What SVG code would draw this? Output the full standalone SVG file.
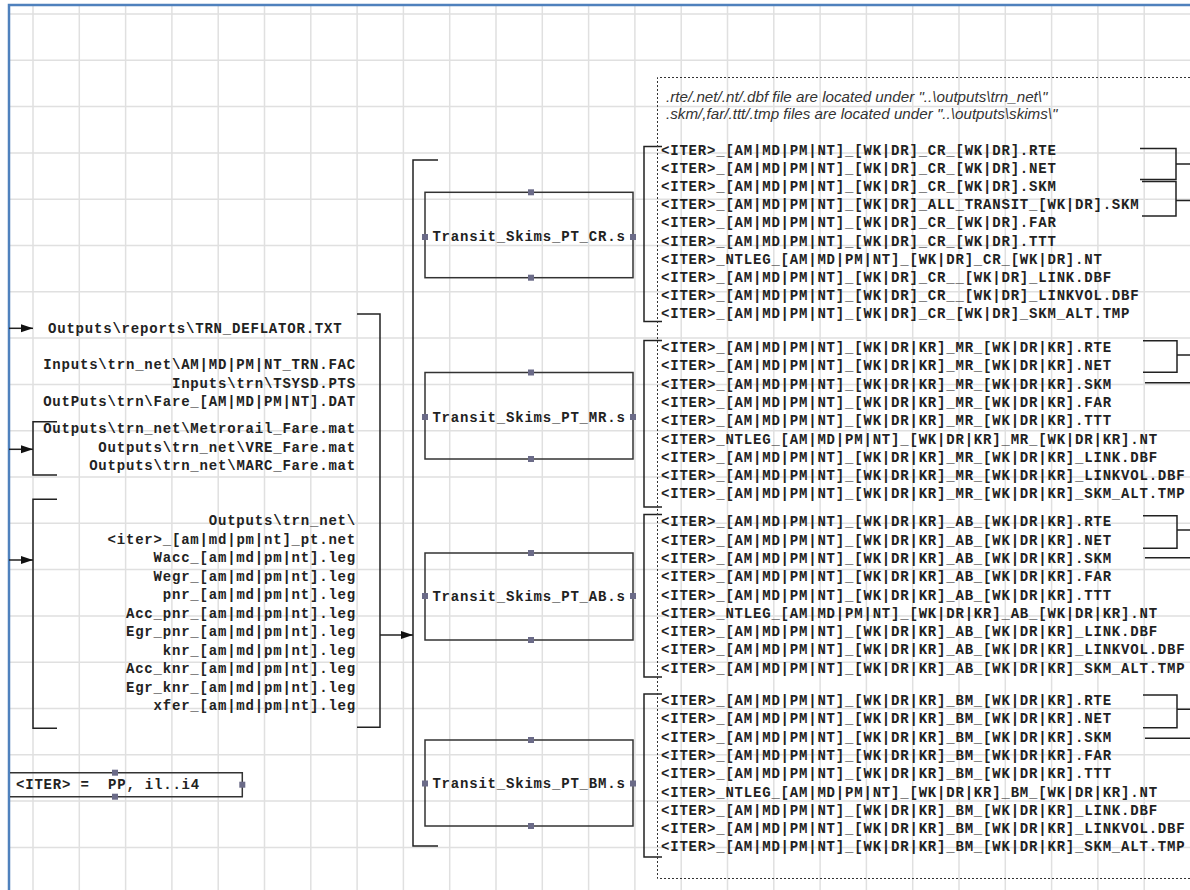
<svg xmlns="http://www.w3.org/2000/svg" width="1190" height="890" viewBox="0 0 1190 890">
<defs>
<style>
.grid{stroke:#e0e0e0;stroke-width:1.5;fill:none}
.frame{stroke:#4f81bd;stroke-width:2.5;fill:none}
.mono{font-family:"Liberation Mono","Courier New",monospace;font-size:14px;font-weight:bold;letter-spacing:0.8px;fill:#222;white-space:pre}
.r{text-anchor:end}
.c{text-anchor:middle}
.box{fill:none;stroke:#333;stroke-width:1.5}
.h{fill:#6b6b88}
.br{fill:none;stroke:#222;stroke-width:1.5}
.dot{fill:none;stroke:#333;stroke-width:1;stroke-dasharray:2,2}
.note{font-family:"Liberation Sans",Arial,sans-serif;font-style:italic;font-size:15.2px;fill:#333}
</style>
<marker id="arr" markerUnits="userSpaceOnUse" markerWidth="13" markerHeight="9" refX="12" refY="4" orient="auto">
<path d="M0,0 L12,4 L0,8 z" fill="#111"/>
</marker>
</defs>
<rect width="1190" height="890" fill="#fff"/>
<path class="grid" d="M33,5V890M79.3,5V890M125.6,5V890M171.9,5V890M218.2,5V890M264.5,5V890M310.8,5V890M357.1,5V890M403.4,5V890M449.7,5V890M496,5V890M542.3,5V890M588.6,5V890M634.9,5V890M681.2,5V890M727.5,5V890M773.8,5V890M820.1,5V890M866.4,5V890M912.7,5V890M959,5V890M1005.3,5V890M1051.6,5V890M1097.9,5V890M1144.2,5V890
M9,14H1190M9,60.3H1190M9,106.6H1190M9,152.9H1190M9,199.2H1190M9,245.5H1190M9,291.8H1190M9,338.1H1190M9,384.4H1190M9,430.7H1190M9,477H1190M9,523.3H1190M9,569.6H1190M9,615.9H1190M9,662.2H1190M9,708.5H1190M9,754.8H1190M9,801.1H1190M9,847.4H1190"/>
<path class="frame" d="M9,890V5H1190"/>

<g id="connectors">
<path class="br" d="M9,328.3H33" marker-end="url(#arr)"/>
<path class="br" d="M57,421.7H33V475H57"/>
<path class="br" d="M9,449.3H33" marker-end="url(#arr)"/>
<path class="br" d="M57,499.3H33V728.3H57"/>
<path class="br" d="M9,560H33" marker-end="url(#arr)"/>
<path class="br" d="M357,314H380V727.3H357"/>
<path class="br" d="M380,635H413" marker-end="url(#arr)"/>
<path class="br" d="M438,160H413V846H438"/>
<path class="br" d="M662,146.5H644V321.5H662"/>
<path class="br" d="M662,340.5H644V507H662"/>
<path class="br" d="M662,514.5H644V677H662"/>
<path class="br" d="M662,694H644V857H662"/>
<path class="br" d="M1140,148.5H1176V179.5H1140M1176,164H1190"/>
<path class="br" d="M1142,181.5H1176V216H1142M1176,200.5H1190"/>
<path class="br" d="M1143,340.7H1177V372.3H1143M1177,355H1190M1145,382.7H1190"/>
<path class="br" d="M1143,515.7H1177V548.3H1143M1177,530H1190M1145,557.7H1190"/>
<path class="br" d="M1143,695H1177V727.7H1143M1177,709.3H1190M1145,738.3H1190"/>
</g>

<g id="input-deflator">
<text class="mono" x="48" y="333">Outputs\reports\TRN_DEFLATOR.TXT</text>
<text class="mono r" x="356" y="369">Inputs\trn_net\AM|MD|PM|NT_TRN.FAC</text>
<text class="mono r" x="356" y="387.5">Inputs\trn\TSYSD.PTS</text>
<text class="mono r" x="356" y="406">OutPuts\trn\Fare_[AM|MD|PM|NT].DAT</text>
</g>
<g id="input-fares">
<text class="mono r" x="356" y="433">Outputs\trn_net\Metrorail_Fare.mat</text>
<text class="mono r" x="356" y="451.5">Outputs\trn_net\VRE_Fare.mat</text>
<text class="mono r" x="356" y="470">Outputs\trn_net\MARC_Fare.mat</text>
</g>
<g id="input-networks">
<text class="mono r" x="356" y="525">Outputs\trn_net\</text>
<text class="mono r" x="356" y="543.5">&lt;iter&gt;_[am|md|pm|nt]_pt.net</text>
<text class="mono r" x="356" y="562">Wacc_[am|md|pm|nt].leg</text>
<text class="mono r" x="356" y="580.5">Wegr_[am|md|pm|nt].leg</text>
<text class="mono r" x="356" y="599">pnr_[am|md|pm|nt].leg</text>
<text class="mono r" x="356" y="617.5">Acc_pnr_[am|md|pm|nt].leg</text>
<text class="mono r" x="356" y="636">Egr_pnr_[am|md|pm|nt].leg</text>
<text class="mono r" x="356" y="654.5">knr_[am|md|pm|nt].leg</text>
<text class="mono r" x="356" y="673">Acc_knr_[am|md|pm|nt].leg</text>
<text class="mono r" x="356" y="691.5">Egr_knr_[am|md|pm|nt].leg</text>
<text class="mono r" x="356" y="710">xfer_[am|md|pm|nt].leg</text>
</g>

<g id="iter-def">
<path class="box" d="M10,772.7H242.3V796.7H10"/>
<text class="mono" x="16" y="789" xml:space="preserve">&lt;ITER&gt; =  PP, il..i4</text>
<rect class="h" x="112" y="769.7" width="6" height="6"/>
<rect class="h" x="112" y="793.7" width="6" height="6"/>
<rect class="h" x="239.3" y="781.7" width="6" height="6"/>
</g>

<g id="node-cr">
<rect class="box" x="425" y="192.3" width="208" height="85.4"/>
<text class="mono c" x="529" y="241">Transit_Skims_PT_CR.s</text>
<rect class="h" x="528" y="189.3" width="6" height="6"/>
<rect class="h" x="528" y="274.7" width="6" height="6"/>
<rect class="h" x="422" y="234" width="6" height="6"/>
<rect class="h" x="630" y="234" width="6" height="6"/>
</g>
<g id="node-mr">
<rect class="box" x="425" y="372.5" width="208" height="86.5"/>
<text class="mono c" x="529" y="422">Transit_Skims_PT_MR.s</text>
<rect class="h" x="528" y="369.5" width="6" height="6"/>
<rect class="h" x="528" y="456" width="6" height="6"/>
<rect class="h" x="422" y="414" width="6" height="6"/>
<rect class="h" x="630" y="414" width="6" height="6"/>
</g>
<g id="node-ab">
<rect class="box" x="425" y="553" width="208" height="87"/>
<text class="mono c" x="529" y="600.5">Transit_Skims_PT_AB.s</text>
<rect class="h" x="528" y="550" width="6" height="6"/>
<rect class="h" x="528" y="637" width="6" height="6"/>
<rect class="h" x="422" y="593" width="6" height="6"/>
<rect class="h" x="630" y="593" width="6" height="6"/>
</g>
<g id="node-bm">
<rect class="box" x="425" y="740" width="208" height="86"/>
<text class="mono c" x="529" y="788">Transit_Skims_PT_BM.s</text>
<rect class="h" x="528" y="737" width="6" height="6"/>
<rect class="h" x="528" y="823" width="6" height="6"/>
<rect class="h" x="422" y="780.5" width="6" height="6"/>
<rect class="h" x="630" y="780.5" width="6" height="6"/>
</g>

<g id="outputs-frame">
<path class="dot" d="M1190,77.5H657.5V878.5H1190"/>
<text class="note" x="666" y="101.5">.rte/.net/.nt/.dbf file are located under "..\outputs\trn_net\"</text>
<text class="note" x="666" y="119">.skm/,far/.ttt/.tmp files are located under "..\outputs\skims\"</text>
</g>

<g id="outputs-cr">
<text class="mono" x="661" y="154.5">&lt;ITER&gt;_[AM|MD|PM|NT]_[WK|DR]_CR_[WK|DR].RTE</text>
<text class="mono" x="661" y="172.7">&lt;ITER&gt;_[AM|MD|PM|NT]_[WK|DR]_CR_[WK|DR].NET</text>
<text class="mono" x="661" y="190.9">&lt;ITER&gt;_[AM|MD|PM|NT]_[WK|DR]_CR_[WK|DR].SKM</text>
<text class="mono" x="661" y="209.1">&lt;ITER&gt;_[AM|MD|PM|NT]_[WK|DR]_ALL_TRANSIT_[WK|DR].SKM</text>
<text class="mono" x="661" y="227.3">&lt;ITER&gt;_[AM|MD|PM|NT]_[WK|DR]_CR_[WK|DR].FAR</text>
<text class="mono" x="661" y="245.5">&lt;ITER&gt;_[AM|MD|PM|NT]_[WK|DR]_CR_[WK|DR].TTT</text>
<text class="mono" x="661" y="263.7">&lt;ITER&gt;_NTLEG_[AM|MD|PM|NT]_[WK|DR]_CR_[WK|DR].NT</text>
<text class="mono" x="661" y="281.9">&lt;ITER&gt;_[AM|MD|PM|NT]_[WK|DR]_CR__[WK|DR]_LINK.DBF</text>
<text class="mono" x="661" y="300.1">&lt;ITER&gt;_[AM|MD|PM|NT]_[WK|DR]_CR__[WK|DR]_LINKVOL.DBF</text>
<text class="mono" x="661" y="318.3">&lt;ITER&gt;_[AM|MD|PM|NT]_[WK|DR]_CR_[WK|DR]_SKM_ALT.TMP</text>
</g>
<g id="outputs-mr">
<text class="mono" x="661" y="352">&lt;ITER&gt;_[AM|MD|PM|NT]_[WK|DR|KR]_MR_[WK|DR|KR].RTE</text>
<text class="mono" x="661" y="370.3">&lt;ITER&gt;_[AM|MD|PM|NT]_[WK|DR|KR]_MR_[WK|DR|KR].NET</text>
<text class="mono" x="661" y="388.6">&lt;ITER&gt;_[AM|MD|PM|NT]_[WK|DR|KR]_MR_[WK|DR|KR].SKM</text>
<text class="mono" x="661" y="406.9">&lt;ITER&gt;_[AM|MD|PM|NT]_[WK|DR|KR]_MR_[WK|DR|KR].FAR</text>
<text class="mono" x="661" y="425.2">&lt;ITER&gt;_[AM|MD|PM|NT]_[WK|DR|KR]_MR_[WK|DR|KR].TTT</text>
<text class="mono" x="661" y="443.5">&lt;ITER&gt;_NTLEG_[AM|MD|PM|NT]_[WK|DR|KR]_MR_[WK|DR|KR].NT</text>
<text class="mono" x="661" y="461.8">&lt;ITER&gt;_[AM|MD|PM|NT]_[WK|DR|KR]_MR_[WK|DR|KR]_LINK.DBF</text>
<text class="mono" x="661" y="480.1">&lt;ITER&gt;_[AM|MD|PM|NT]_[WK|DR|KR]_MR_[WK|DR|KR]_LINKVOL.DBF</text>
<text class="mono" x="661" y="498.4">&lt;ITER&gt;_[AM|MD|PM|NT]_[WK|DR|KR]_MR_[WK|DR|KR]_SKM_ALT.TMP</text>
</g>
<g id="outputs-ab">
<text class="mono" x="661" y="526.3">&lt;ITER&gt;_[AM|MD|PM|NT]_[WK|DR|KR]_AB_[WK|DR|KR].RTE</text>
<text class="mono" x="661" y="544.6">&lt;ITER&gt;_[AM|MD|PM|NT]_[WK|DR|KR]_AB_[WK|DR|KR].NET</text>
<text class="mono" x="661" y="562.9">&lt;ITER&gt;_[AM|MD|PM|NT]_[WK|DR|KR]_AB_[WK|DR|KR].SKM</text>
<text class="mono" x="661" y="581.2">&lt;ITER&gt;_[AM|MD|PM|NT]_[WK|DR|KR]_AB_[WK|DR|KR].FAR</text>
<text class="mono" x="661" y="599.5">&lt;ITER&gt;_[AM|MD|PM|NT]_[WK|DR|KR]_AB_[WK|DR|KR].TTT</text>
<text class="mono" x="661" y="617.8">&lt;ITER&gt;_NTLEG_[AM|MD|PM|NT]_[WK|DR|KR]_AB_[WK|DR|KR].NT</text>
<text class="mono" x="661" y="636.1">&lt;ITER&gt;_[AM|MD|PM|NT]_[WK|DR|KR]_AB_[WK|DR|KR]_LINK.DBF</text>
<text class="mono" x="661" y="654.4">&lt;ITER&gt;_[AM|MD|PM|NT]_[WK|DR|KR]_AB_[WK|DR|KR]_LINKVOL.DBF</text>
<text class="mono" x="661" y="672.7">&lt;ITER&gt;_[AM|MD|PM|NT]_[WK|DR|KR]_AB_[WK|DR|KR]_SKM_ALT.TMP</text>
</g>
<g id="outputs-bm">
<text class="mono" x="661" y="705">&lt;ITER&gt;_[AM|MD|PM|NT]_[WK|DR|KR]_BM_[WK|DR|KR].RTE</text>
<text class="mono" x="661" y="723.3">&lt;ITER&gt;_[AM|MD|PM|NT]_[WK|DR|KR]_BM_[WK|DR|KR].NET</text>
<text class="mono" x="661" y="741.6">&lt;ITER&gt;_[AM|MD|PM|NT]_[WK|DR|KR]_BM_[WK|DR|KR].SKM</text>
<text class="mono" x="661" y="759.9">&lt;ITER&gt;_[AM|MD|PM|NT]_[WK|DR|KR]_BM_[WK|DR|KR].FAR</text>
<text class="mono" x="661" y="778.2">&lt;ITER&gt;_[AM|MD|PM|NT]_[WK|DR|KR]_BM_[WK|DR|KR].TTT</text>
<text class="mono" x="661" y="796.5">&lt;ITER&gt;_NTLEG_[AM|MD|PM|NT]_[WK|DR|KR]_BM_[WK|DR|KR].NT</text>
<text class="mono" x="661" y="814.8">&lt;ITER&gt;_[AM|MD|PM|NT]_[WK|DR|KR]_BM_[WK|DR|KR]_LINK.DBF</text>
<text class="mono" x="661" y="833.1">&lt;ITER&gt;_[AM|MD|PM|NT]_[WK|DR|KR]_BM_[WK|DR|KR]_LINKVOL.DBF</text>
<text class="mono" x="661" y="851.4">&lt;ITER&gt;_[AM|MD|PM|NT]_[WK|DR|KR]_BM_[WK|DR|KR]_SKM_ALT.TMP</text>
</g>
</svg>
